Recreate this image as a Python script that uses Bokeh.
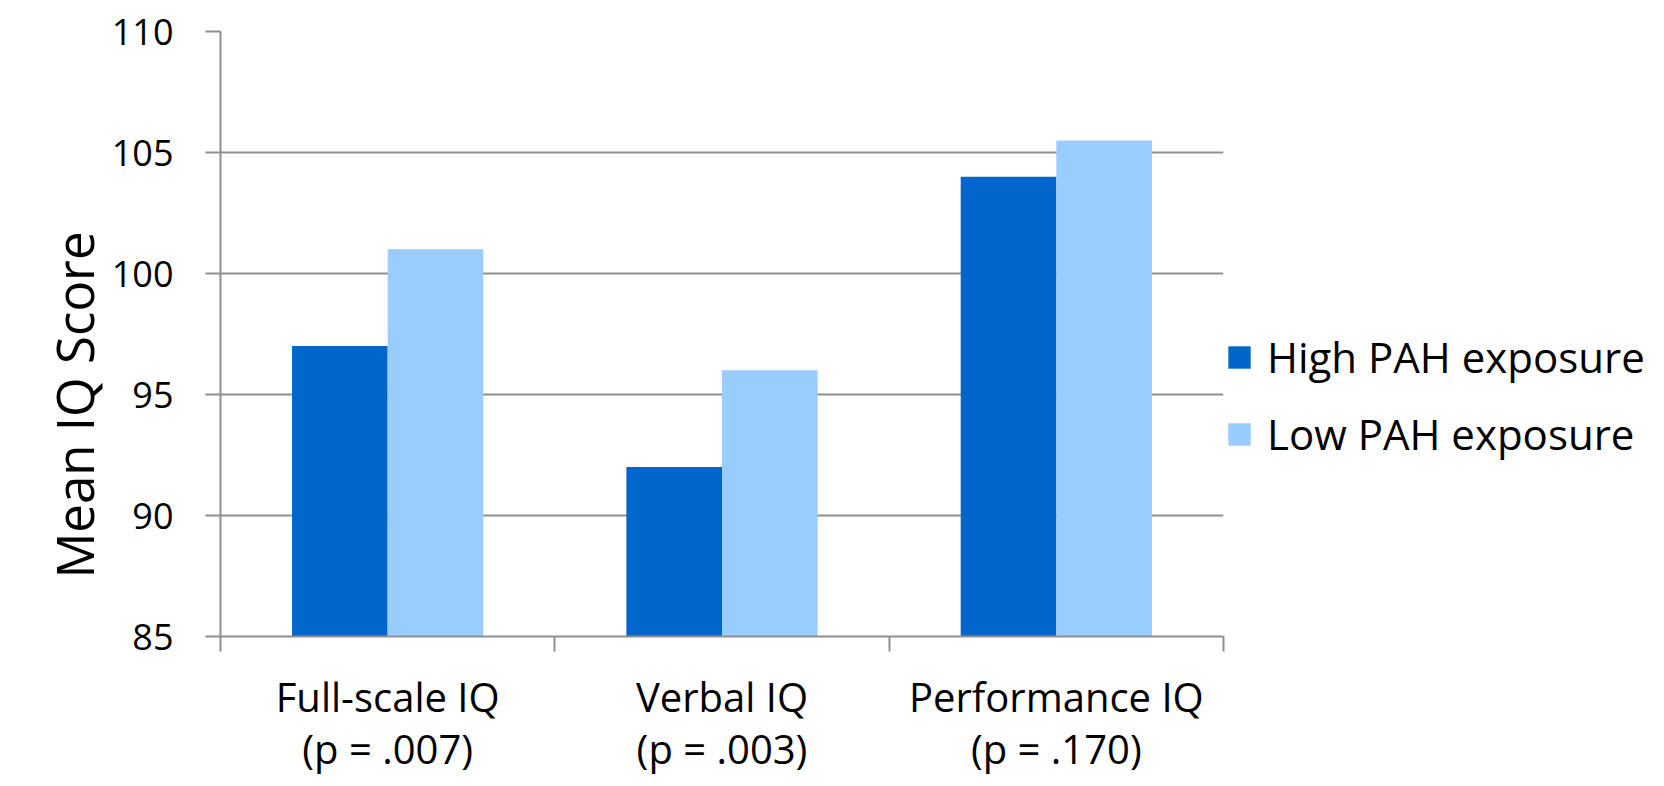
from bokeh.plotting import figure
from bokeh.models import (LinearAxis, FixedTicker, Range1d, Legend, LegendItem, Title)
from bokeh.embed import file_html
from bokeh.resources import INLINE
import numpy as np

categories = ["Full-scale IQ", "Verbal IQ", "Performance IQ"]
pvalues = ["(p = .007)", "(p = .003)", "(p = .170)"]
high_pah = [97, 92, 104]
low_pah = [101, 96, 105.5]
series_names = ["High PAH exposure", "Low PAH exposure"]
y_ticks = [85, 90, 95, 100, 105, 110]
y_title = "Mean IQ Score"

FONT = "Open Sans"
GRAY = "#8f8f8f"
DARK = "#0066CC"
LIGHT = "#99CCFF"

idx = np.arange(len(categories))
centers = [float(c) for c in idx + 0.5]
bw = 0.286
Y0, Y1 = 85, 110

p = figure(frame_width=1003, frame_height=605, output_backend="svg",
           toolbar_location=None, x_range=Range1d(0, len(categories)),
           y_range=Range1d(Y0, Y1), min_border_left=220, min_border_top=31,
           min_border_bottom=150, min_border_right=0, x_axis_type=None)
p.outline_line_color = None
p.background_fill_color = "white"

r1 = p.vbar(x=idx + 0.5 - bw / 2, width=bw, top=high_pah, bottom=Y0,
            fill_color=DARK, line_color=None)
r2 = p.vbar(x=idx + 0.5 + bw / 2, width=bw, top=low_pah, bottom=Y0,
            fill_color=LIGHT, line_color=None)

# y axis
ya = p.yaxis[0]
ya.ticker = FixedTicker(ticks=y_ticks)
ya.axis_line_color = GRAY
ya.axis_line_width = 2
ya.major_tick_line_color = GRAY
ya.major_tick_line_width = 2
ya.major_tick_in = 0
ya.major_tick_out = 15
ya.minor_tick_line_color = None
ya.major_label_text_font = FONT
ya.major_label_text_font_size = "36px"
ya.major_label_text_color = "black"
ya.major_label_standoff = 32

p.ygrid.ticker = FixedTicker(ticks=y_ticks)
p.ygrid.grid_line_color = GRAY
p.ygrid.grid_line_width = 2
p.xgrid.grid_line_color = None

# empty spacer between the tick labels and the y title
spacer = LinearAxis(ticker=FixedTicker(ticks=[]))
spacer.axis_line_color = None
spacer.major_tick_line_color = None
spacer.minor_tick_line_color = None
spacer.major_tick_in = 0
spacer.major_tick_out = 77
p.add_layout(spacer, "left")

# y title, placed like the original (lower than the frame's middle)
ytitle = Title(text=y_title, align="left", offset=58, standoff=0,
               text_font=FONT, text_font_size="51px", text_font_style="normal",
               text_color="black")
p.add_layout(ytitle, "left")

# x axis: category labels at centres, ticks at category boundaries
xa = LinearAxis(ticker=FixedTicker(ticks=centers,
                                   minor_ticks=list(range(len(categories) + 1))))
xa.major_label_overrides = {c: t for c, t in zip(centers, categories)}
xa.axis_line_color = GRAY
xa.axis_line_width = 2
xa.major_tick_line_color = None
xa.major_tick_in = 0
xa.major_tick_out = 15
xa.minor_tick_line_color = GRAY
xa.minor_tick_line_width = 2
xa.minor_tick_in = 0
xa.minor_tick_out = 15
xa.major_label_text_font = FONT
xa.major_label_text_font_size = "40px"
xa.major_label_text_color = "black"
xa.major_label_standoff = 17
p.add_layout(xa, "below")

# second line of category labels (p-values)
xp = LinearAxis(ticker=FixedTicker(ticks=centers))
xp.major_label_overrides = {c: t for c, t in zip(centers, pvalues)}
xp.axis_line_color = None
xp.major_tick_line_color = None
xp.minor_tick_line_color = None
xp.major_tick_in = 0
xp.major_tick_out = 0
xp.major_label_text_font = FONT
xp.major_label_text_font_size = "40px"
xp.major_label_text_color = "black"
xp.major_label_standoff = -6
p.add_layout(xp, "below")

legend = Legend(items=[LegendItem(label=series_names[0], renderers=[r1]),
                       LegendItem(label=series_names[1], renderers=[r2])],
                location=(2, 174))
legend.border_line_color = None
legend.background_fill_color = None
legend.margin = 0
legend.padding = 4
legend.glyph_width = 28
legend.glyph_height = 28
legend.label_text_font = FONT
legend.label_text_font_size = "42px"
legend.label_text_color = "black"
legend.label_height = 40
legend.spacing = 20
legend.label_standoff = 14
p.add_layout(legend, "right")

open("out.html", "w").write(file_html(p, INLINE))
